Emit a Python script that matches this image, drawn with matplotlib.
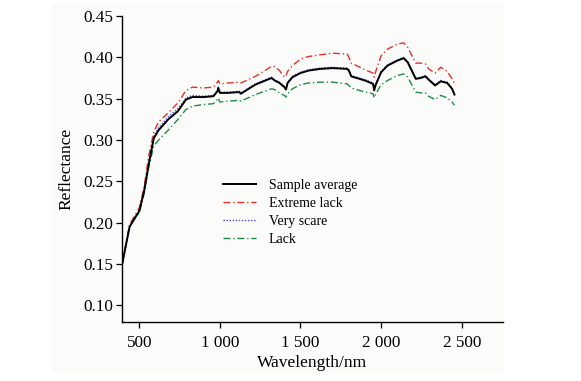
import matplotlib
matplotlib.use("Agg")
import matplotlib.pyplot as plt
from matplotlib.patches import Rectangle

plt.rcParams['font.family'] = ['Liberation Serif', 'DejaVu Serif']

wavelength = [395, 440, 470, 500, 530, 560, 590, 620, 680, 740, 790, 830, 900, 960, 985, 990,
              1000, 1050, 1120, 1130, 1220, 1320, 1340, 1370, 1400, 1410, 1420, 1450, 1500,
              1550, 1620, 1700, 1790, 1800, 1815, 1900, 1950, 1957, 1965, 2000, 2040, 2100,
              2140, 2165, 2215, 2245, 2275, 2295, 2335, 2370, 2410, 2440, 2455]

sample_average = [0.151, 0.195, 0.205, 0.214, 0.238, 0.272, 0.302, 0.312, 0.325, 0.335, 0.349,
                  0.352, 0.352, 0.353, 0.359, 0.363, 0.357, 0.357, 0.358, 0.356, 0.367, 0.375,
                  0.372, 0.369, 0.364, 0.361, 0.369, 0.376, 0.381, 0.384, 0.386, 0.387, 0.386,
                  0.384, 0.377, 0.372, 0.368, 0.360, 0.366, 0.382, 0.390, 0.396, 0.399, 0.394,
                  0.374, 0.375, 0.377, 0.373, 0.366, 0.371, 0.369, 0.362, 0.355]

extreme_lack = [0.151, 0.198, 0.208, 0.218, 0.243, 0.282, 0.310, 0.322, 0.333, 0.345, 0.360,
                0.364, 0.363, 0.364, 0.370, 0.372, 0.368, 0.369, 0.370, 0.369, 0.377, 0.389,
                0.389, 0.384, 0.376, 0.378, 0.383, 0.390, 0.398, 0.401, 0.403, 0.405, 0.404,
                0.400, 0.393, 0.385, 0.381, 0.376, 0.382, 0.402, 0.410, 0.416, 0.4175, 0.412,
                0.393, 0.393, 0.392, 0.386, 0.381, 0.388, 0.383, 0.374, 0.368]

very_scare = [0.151, 0.196, 0.206, 0.215, 0.240, 0.275, 0.305, 0.315, 0.328, 0.338, 0.351,
              0.354, 0.353, 0.354, 0.360, 0.364, 0.358, 0.358, 0.359, 0.357, 0.368, 0.376,
              0.373, 0.370, 0.365, 0.362, 0.370, 0.377, 0.382, 0.385, 0.387, 0.388, 0.387,
              0.385, 0.378, 0.373, 0.369, 0.361, 0.367, 0.383, 0.391, 0.397, 0.400, 0.395,
              0.375, 0.376, 0.378, 0.374, 0.367, 0.372, 0.370, 0.363, 0.356]

lack = [0.151, 0.195, 0.204, 0.212, 0.235, 0.268, 0.293, 0.300, 0.312, 0.325, 0.337,
        0.341, 0.343, 0.344, 0.349, 0.351, 0.346, 0.347, 0.348, 0.347, 0.355, 0.362,
        0.361, 0.357, 0.354, 0.352, 0.356, 0.362, 0.367, 0.369, 0.370, 0.370, 0.368,
        0.366, 0.363, 0.358, 0.356, 0.351, 0.355, 0.367, 0.372, 0.378, 0.380, 0.376,
        0.358, 0.357, 0.357, 0.353, 0.349, 0.354, 0.351, 0.346, 0.342]

x_ticks = [500, 1000, 1500, 2000, 2500]
x_tick_labels = ['500', '1 000', '1 500', '2 000', '2 500']
y_ticks = [0.10, 0.15, 0.20, 0.25, 0.30, 0.35, 0.40, 0.45]
y_tick_labels = ['0.10', '0.15', '0.20', '0.25', '0.30', '0.35', '0.40', '0.45']

W, H = 581, 381
fig = plt.figure(figsize=(W / 100, H / 100), dpi=100, facecolor='white')
fig.patches.append(Rectangle((52 / W, 1 - 373 / H), (503 - 52) / W, (373 - 3) / H,
                             transform=fig.transFigure, facecolor='#fbfbf9',
                             edgecolor='none', zorder=-10))

ax = fig.add_axes([122 / W, 1 - 322 / H, (503 - 122) / W, (322 - 16) / H])
ax.set_facecolor('none')

ax.plot(wavelength, lack, color='#1f8a4a', lw=1.0, ls=(0, (5, 2, 1, 2)), label='Lack', zorder=2)
ax.plot(wavelength, extreme_lack, color='#e8302a', lw=1.0, ls=(0, (5, 2, 1, 2)), label='Extreme lack', zorder=2)
ax.plot(wavelength, very_scare, color='#4a4ad6', lw=1.0, ls=(0, (1, 1.2)), label='Very scare', zorder=3)
ax.plot(wavelength, sample_average, color='black', lw=1.4, label='Sample average', zorder=4)

ax.set_xlim(393, 2756)
ax.set_ylim(0.08, 0.45)
ax.set_xticks(x_ticks)
ax.set_xticklabels(x_tick_labels)
ax.set_yticks(y_ticks)
ax.set_yticklabels(y_tick_labels)
ax.tick_params(direction='out', length=4.5, width=0.9, labelsize=12.3, pad=2, colors='black')
ax.tick_params(axis='x', pad=5)

for s in ['top', 'right']:
    ax.spines[s].set_visible(False)
for s in ['left', 'bottom']:
    ax.spines[s].set_linewidth(1.0)

ax.set_xlabel('Wavelength/nm', fontsize=12.5, labelpad=3)
ax.set_ylabel('Reflectance', fontsize=12.5, labelpad=6)

handles, labels = ax.get_legend_handles_labels()
order = ['Sample average', 'Extreme lack', 'Very scare', 'Lack']
hmap = dict(zip(labels, handles))
fig.legend([hmap[k] for k in order], order, loc='upper left',
           bbox_to_anchor=(223 / W, 1 - 179 / H), frameon=False, fontsize=10,
           handlelength=2.4, handletextpad=0.9, labelspacing=0.35, borderpad=0,
           borderaxespad=0)

fig.savefig('out.png', dpi=100, facecolor='white')
